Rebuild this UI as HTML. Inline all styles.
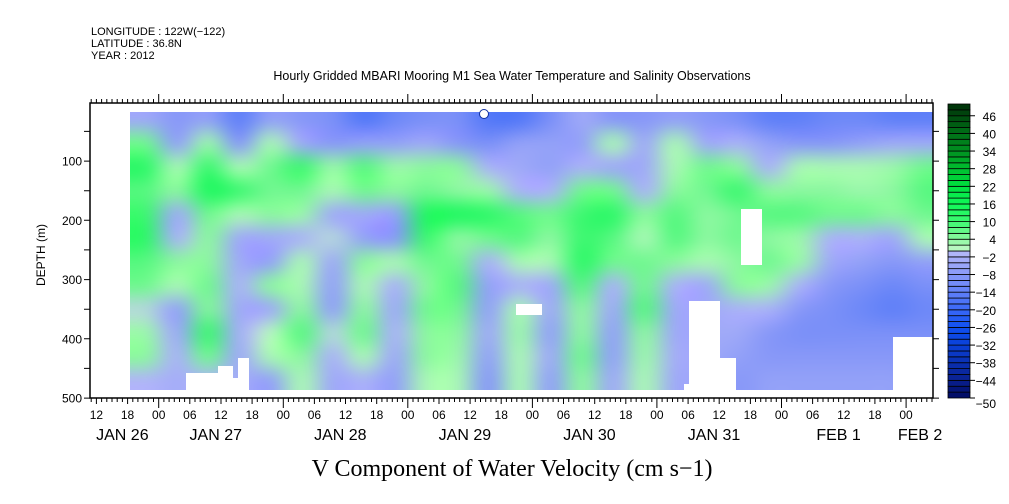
<!DOCTYPE html>
<html><head><meta charset="utf-8"><style>
html,body{margin:0;padding:0;background:#fff;}
#wrap{position:relative;width:1009px;height:504px;overflow:hidden;}
#fieldCanvas{position:absolute;left:130px;top:112px;}
svg{position:absolute;left:0;top:0;display:block;font-family:"Liberation Sans",sans-serif;}
</style></head><body>
<div id="wrap">
<canvas id="fieldCanvas" width="803" height="278"></canvas>
<svg id="chart" width="1009" height="504" viewBox="0 0 1009 504" xmlns="http://www.w3.org/2000/svg">
<g font-size="11" fill="#000">
  <text x="91" y="35">LONGITUDE : 122W(−122)</text>
  <text x="91" y="47">LATITUDE : 36.8N</text>
  <text x="91" y="59">YEAR : 2012</text>
</g>
<text x="512" y="80" font-size="12.5" text-anchor="middle">Hourly Gridded MBARI Mooring M1 Sea Water Temperature and Salinity Observations</text>
<g id="masks" fill="#fff"></g>
<g id="axes" stroke="#000" fill="none"></g>
<g id="labels" fill="#000"></g>
<text transform="translate(45,255) rotate(-90)" font-size="12" text-anchor="middle">DEPTH (m)</text>
<text x="512" y="476" font-family="Liberation Serif, serif" font-size="24" text-anchor="middle">V Component of Water Velocity (cm s−1)</text>
<g id="cbar"></g>
</svg>
</div>
<script>
// ---- data ----
const depths = [30,70,110,150,190,230,270,310,350,390,430,470];
const colStartHours = -5.5; // hours relative to first "00" tick
const colHours = 6;
const field = [
 [-4,6,12,8,10,12,8,6,0,3,4,-1],
 [-8,-6,2,4,-4,-2,4,2,-6,-4,-2,-3],
 [-6,3,10,14,6,4,4,6,5,10,6,-1],
 [-14,-8,2,10,2,-4,-4,-2,-4,-3,-4,-3],
 [-6,2,6,6,4,-4,-6,4,-4,1,2,-6],
 [-8,-4,10,6,3,-2,2,2,4,8,4,2],
 [-10,-8,3,2,-4,0,-4,-6,-6,0,-2,-4],
 [-16,-6,8,6,-4,-6,4,2,4,6,2,-2],
 [-12,-6,3,4,-6,-8,2,-2,-4,-2,-4,-6],
 [-10,-4,4,6,14,10,6,4,6,4,4,2],
 [-10,-8,4,4,14,4,6,8,6,4,3,2],
 [-16,-10,-2,3,12,6,-2,-6,-6,-4,-6,-8],
 [-16,-6,-4,-2,8,8,2,-2,2,3,2,2],
 [-10,-6,-6,-2,6,4,2,-4,-4,-6,-4,-6],
 [-4,-6,-2,6,10,10,12,8,4,4,6,4],
 [-8,2,-4,6,12,8,6,-2,-4,-6,-6,-4],
 [-8,-4,-4,-2,4,2,6,6,8,4,3,2],
 [-6,2,2,4,8,8,4,-2,-4,-4,-3,-4],
 [-8,-4,6,6,4,4,2,-4,-4,-4,-4,-4],
 [-10,-2,4,10,6,6,4,4,-2,-4,-6,-8],
 [-14,-6,-2,4,8,4,6,3,-2,-8,-8,-6],
 [-14,-8,2,4,8,3,3,-2,-8,-10,-8,-6],
 [-12,-8,2,4,6,-2,-4,-8,-10,-10,-8,-6],
 [-12,-6,2,3,6,-2,-6,-10,-12,-10,-8,-6],
 [-14,-4,3,4,4,-4,-8,-12,-14,-10,-8,-6],
 [-14,-4,6,8,6,2,-6,-10,-12,-10,-8,-8]
];
const hourLabels = ["12","18","00","06"];
const dateLabels = ["JAN 26","JAN 27","JAN 28","JAN 29","JAN 30","JAN 31","FEB  1","FEB 2"];
const dateHours = [-7,11,35,59,83,107,131,146.7];
const depthTicks = [100,200,300,400,500];
const cbarLabels = [46,40,34,28,22,16,10,4,-2,-8,-14,-20,-26,-32,-38,-44,-50];

// ---- scales ----
const X0 = 158.7, PXH = 5.19;
const xOf = h => X0 + h*PXH;
const yOf = d => 101.8 + d*0.5925;
const L = 90, R = 933, T = 103, B = 398;
const FX = 130, FY = 112;
const NS = "http://www.w3.org/2000/svg";
function mk(tag, attrs, parent){const e=document.createElementNS(NS,tag);for(const k in attrs)e.setAttribute(k,attrs[k]);parent.appendChild(e);return e;}

const anchors = [[-50,[0,10,96]],[-44,[10,32,144]],[-38,[10,48,176]],[-32,[10,64,216]],[-26,[16,80,240]],[-20,[58,104,248]],[-14,[96,128,248]],[-8,[136,152,248]],[-1,[176,182,248]],[1,[184,248,192]],[4,[140,248,160]],[10,[60,248,112]],[16,[16,248,88]],[22,[0,224,64]],[28,[0,192,48]],[34,[0,144,32]],[40,[0,112,24]],[50,[0,48,8]]];
function rgb(v){
  if(v<=anchors[0][0]) return anchors[0][1];
  for(let i=1;i<anchors.length;i++){
    if(v<=anchors[i][0]){const a=anchors[i-1],b=anchors[i];const f=(v-a[0])/(b[0]-a[0]);
      return a[1].map((x,j)=>Math.round(x+(b[1][j]-x)*f));}
  }
  return anchors[anchors.length-1][1];
}
const color = v => `rgb(${rgb(v)})`;

// ---- field (bilinear-smoothed canvas) ----
(function(){
  const nc=field.length, nr=depths.length;
  const off=document.createElement('canvas'); off.width=nc; off.height=nr;
  const octx=off.getContext('2d'); const img=octx.createImageData(nc,nr);
  field.forEach((col,i)=>col.forEach((v,j)=>{const c=rgb(v);const k=(j*nc+i)*4;img.data[k]=c[0];img.data[k+1]=c[1];img.data[k+2]=c[2];img.data[k+3]=255;}));
  octx.putImageData(img,0,0);
  const ctx=document.getElementById('fieldCanvas').getContext('2d');
  ctx.imageSmoothingEnabled=true; ctx.imageSmoothingQuality='high';
  const dStep=depths[1]-depths[0];
  const x0=xOf(colStartHours)-FX, w=nc*colHours*PXH;
  const y0=yOf(depths[0]-dStep/2)-FY, h=yOf(depths[nr-1]+dStep/2)-yOf(depths[0]-dStep/2);
  ctx.drawImage(off,0,0,nc,nr,x0,y0,w,h);
})();

// ---- missing data masks ----
const masks = document.getElementById('masks');
[[186,373,32,18],[218,366,15,25],[233,378,5,13],[238,358,11,33],[516,304,26,11],[689,301,31,90],[720,358,16,33],[684,384,6,7],[741,209,21,56],[893,337,41,54]].forEach(m=>{
  const r=mk('rect',{x:m[0],y:m[1],width:m[2],height:m[3]},masks);
  
  
});
const dot = mk('circle',{cx:484,cy:114,r:4.5,fill:'#fff',stroke:'#1030a0','stroke-width':1},masks);



// ---- axes ----
const ax = document.getElementById('axes');
const frame = mk('rect',{x:L,y:T,width:R-L,height:B-T,'stroke-width':1.5},ax);


let p='';
for(let h=-13;h<=150;h++){
  const x=xOf(h); if(x<L||x>R) continue;
  const hr=((h%24)+24)%24;
  const lb = hr===0?10:(hr%6===0?6:4);
  const lt = hr===0?9:4;
  p+=`M${x.toFixed(1)} ${B}v${lb}M${x.toFixed(1)} ${T}v-${lt}`;
}
for(let d=50;d<=500;d+=50){const y=yOf(d);p+=`M${L} ${y.toFixed(1)}h-6M${R} ${y.toFixed(1)}h6`;}
const tk=mk('path',{d:p,'stroke-width':1},ax);



const lab=document.getElementById('labels');
for(let h=-12;h<=150;h+=6){
  const x=xOf(h); if(x<L||x>R) continue;
  const t=mk('text',{x:x,y:419,'font-size':12,'text-anchor':'middle'},lab);
  t.textContent=hourLabels[((h/6)%4+4+2)%4];
  
  
}
dateLabels.forEach((s,i)=>{
  const t=mk('text',{x:xOf(dateHours[i]),y:440,'font-size':16,'text-anchor':'middle','xml:space':'preserve'},lab);
  t.textContent=s;
  
  
});
depthTicks.forEach(d=>{
  const t=mk('text',{x:82,y:yOf(d)+4.5,'font-size':12,'text-anchor':'end'},lab);
  t.textContent=d;
  
  
});

// ---- colorbar ----
const cb=document.getElementById('cbar');
const cT=104,cB=398,cL=948,cW=22;
const cy=v=>cT+(50-v)/100*(cB-cT);
for(let v=-50;v<50;v+=2){
  const r=mk('rect',{x:cL,y:cy(v+2),width:cW,height:cy(v)-cy(v+2),fill:color(v+1),stroke:'#000','stroke-width':0.8},cb);
  
  
}
cbarLabels.forEach(v=>{
  const y = v===-50?408:cy(v)+5;
  const t=mk('text',{x:996,y:y,'font-size':12,'text-anchor':'end'},cb);
  t.textContent=String(v).replace('-','−');
  
  
  const l=mk('line',{x1:cL+cW,x2:cL+cW+5,y1:cy(v),y2:cy(v),stroke:'#000'},cb);
  
  
});
</script>
</body></html>
